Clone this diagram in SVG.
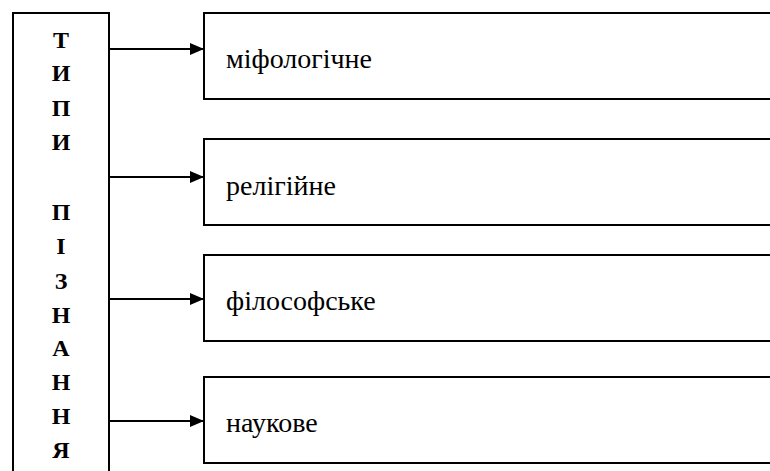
<svg xmlns="http://www.w3.org/2000/svg" width="770" height="471" viewBox="0 0 770 471">
<style>
.box{fill:#fff;stroke:#000;stroke-width:2}
.conn{stroke:#000;stroke-width:2;fill:none}
.lbl{font-family:"Liberation Serif","DejaVu Serif",serif;font-size:28px;fill:#000}
.vt{font-family:"Liberation Serif","DejaVu Serif",serif;font-size:24px;font-weight:bold;fill:#000;text-anchor:middle}
</style>
<defs>
<marker id="ah" markerWidth="14" markerHeight="12" refX="14" refY="6" orient="auto" markerUnits="userSpaceOnUse">
<path d="M0,0 L14,6 L0,12 Z" fill="#000"/>
</marker>
</defs>
<rect width="770" height="471" fill="#fff"/>
<g id="types">
<rect class="box" x="13" y="13" width="96" height="470"/>
<text class="vt" x="61" y="48">Т</text>
<text class="vt" x="61" y="81">И</text>
<text class="vt" x="61" y="116">П</text>
<text class="vt" x="61" y="150">И</text>
<text class="vt" x="61" y="220">П</text>
<text class="vt" x="61" y="254">І</text>
<text class="vt" x="61" y="289">З</text>
<text class="vt" x="61" y="323">Н</text>
<text class="vt" x="61" y="356">А</text>
<text class="vt" x="61" y="390">Н</text>
<text class="vt" x="61" y="424">Н</text>
<text class="vt" x="61" y="458">Я</text>
</g>
<g id="n1"><rect class="box" x="204" y="13" width="580" height="86"/><text class="lbl" x="226" y="68">міфологічне</text></g>
<g id="n2"><rect class="box" x="204" y="139" width="580" height="86"/><text class="lbl" x="226" y="195">релігійне</text></g>
<g id="n3"><rect class="box" x="204" y="255" width="580" height="86"/><text class="lbl" x="226" y="310">філософське</text></g>
<g id="n4"><rect class="box" x="204" y="377" width="580" height="86"/><text class="lbl" x="226" y="432">наукове</text></g>
<g id="connectors">
<line class="conn" x1="109" y1="49" x2="204" y2="49" marker-end="url(#ah)"/>
<line class="conn" x1="109" y1="177" x2="204" y2="177" marker-end="url(#ah)"/>
<line class="conn" x1="109" y1="299" x2="204" y2="299" marker-end="url(#ah)"/>
<line class="conn" x1="109" y1="421" x2="204" y2="421" marker-end="url(#ah)"/>
</g>
</svg>
